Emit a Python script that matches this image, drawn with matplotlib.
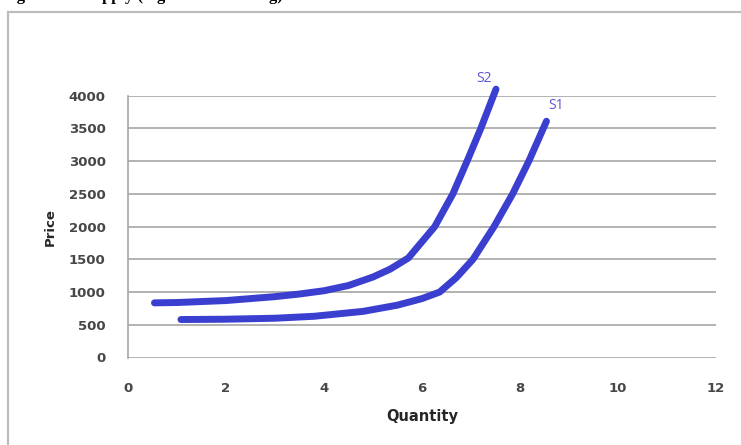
import matplotlib
matplotlib.use("Agg")
import matplotlib.pyplot as plt
from matplotlib.patches import Rectangle

# Data
s1_qty = [1.08, 2.0, 3.0, 3.8, 4.8, 5.5, 6.0, 6.36, 6.7, 7.04, 7.47, 7.85, 8.18, 8.54]
s1_price = [580, 585, 600, 630, 705, 800, 900, 1000, 1220, 1500, 2000, 2500, 3000, 3610]
s2_qty = [0.54, 1.0, 2.0, 3.0, 3.5, 4.0, 4.5, 5.0, 5.35, 5.72, 6.26, 6.63, 6.92, 7.2, 7.51]
s2_price = [835, 840, 870, 930, 970, 1020, 1100, 1230, 1350, 1520, 2000, 2500, 3000, 3500, 4100]
x_ticks = [0, 2, 4, 6, 8, 10, 12]
y_ticks = [0, 500, 1000, 1500, 2000, 2500, 3000, 3500, 4000]

W, H = 741, 445
fig = plt.figure(figsize=(W / 100, H / 100), dpi=100)
fig.patch.set_facecolor("white")

# outer chart border
fig.patches.append(Rectangle((8 / W, -0.05), 1.0, 1 - 12 / H + 0.05,
                             transform=fig.transFigure, fill=False,
                             edgecolor="#bdbdbd", linewidth=1.6))

# cut-off caption at the very top (as in the reference)
fig.text(2 / W, 1 - 0.5 / H, "Figure 2.1: Supply (Signs of Increasing)",
         family="Liberation Serif", fontweight="bold", fontsize=12,
         va="baseline", ha="left", color="black")

ax = fig.add_axes([128 / W, 1 - 357.5 / H, (716 - 128) / W, (357.5 - 95.7) / H])
line_color = "#3b3fd0"
for xs, ys in [(s2_qty, s2_price), (s1_qty, s1_price)]:
    ax.plot(xs, ys, color=line_color, linewidth=5,
            solid_capstyle="round", solid_joinstyle="round", clip_on=False)

lab_col = "#5b55d6"
ax.text(s2_qty[-1] - 0.25, s2_price[-1] + 50, "S2", color=lab_col,
        fontsize=10, family="Open Sans", ha="center", va="bottom")
ax.text(s1_qty[-1] + 0.2, s1_price[-1] + 120, "S1", color=lab_col,
        fontsize=10, family="Open Sans", ha="center", va="bottom")

ax.set_xlim(0, 12)
ax.set_ylim(0, 4000)
ax.set_xticks(x_ticks)
ax.set_yticks(y_ticks)
ax.set_xticklabels([str(t) for t in x_ticks])
ax.set_yticklabels([str(t) for t in y_ticks])
ax.yaxis.grid(True, color="#a6a6a6", linewidth=1.2)
ax.set_axisbelow(True)
for s in ["top", "right", "bottom"]:
    ax.spines[s].set_visible(False)
ax.spines["left"].set_color("#a6a6a6")
ax.spines["left"].set_linewidth(1.2)
ax.tick_params(axis="both", length=0, labelsize=9.5, colors="#474747",
               labelfontfamily="DejaVu Sans")
for lab in ax.get_xticklabels() + ax.get_yticklabels():
    lab.set_fontweight("bold")
ax.tick_params(axis="x", pad=18)
ax.tick_params(axis="y", pad=16)
ax.set_xlabel("Quantity", fontsize=10.5, fontweight="bold", family="DejaVu Sans",
              labelpad=10, color="#262626")
ax.set_ylabel("Price", fontsize=9.5, fontweight="bold", family="DejaVu Sans",
              labelpad=9, color="#262626")

fig.savefig("out.png", dpi=100, facecolor="white")
